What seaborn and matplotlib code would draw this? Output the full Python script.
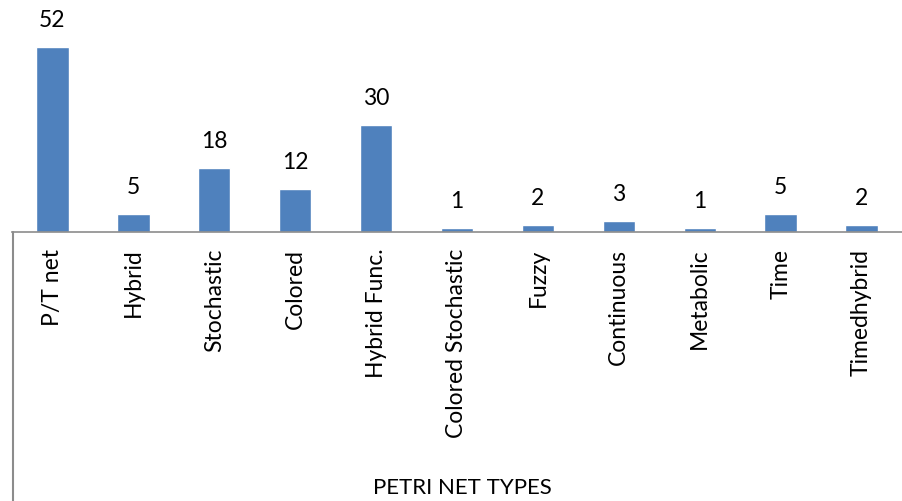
import matplotlib
matplotlib.use("Agg")
import matplotlib.pyplot as plt
import seaborn as sns
import pandas as pd
from matplotlib.lines import Line2D

types = ['P/T net', 'Hybrid', 'Stochastic', 'Colored', 'Hybrid Func.',
         'Colored Stochastic', 'Fuzzy', 'Continuous', 'Metabolic', 'Time',
         'Timedhybrid']
counts = [52, 5, 18, 12, 30, 1, 2, 3, 1, 5, 2]

df = pd.DataFrame({'type': types, 'count': counts})

sns.set_style('white')
plt.rcParams['font.family'] = ['Lato', 'DejaVu Sans']
plt.rcParams['text.color'] = 'black'
plt.rcParams['xtick.color'] = 'black'

fig = plt.figure(figsize=(9.02, 5.01), dpi=100)
# axes: left at x=12px, baseline at y=232px from top
ax = fig.add_axes([12 / 902, (501 - 232) / 501, 890 / 902, 232 / 501])
sns.barplot(data=df, x='type', y='count', color='#4F81BD', width=0.4,
            saturation=1, ax=ax)
ax.set_ylim(0, 232 / 3.56)
ax.set_xlim(-0.5, len(types) - 0.5)

for i, v in enumerate(counts):
    ax.text(i, v + 4.6, str(v), ha='center', va='bottom', fontsize=16.5)

ax.set_yticks([])
ax.set_ylabel('')
ax.set_xlabel('')
ax.set_xticks(range(len(types)))
ax.set_xticklabels(types, rotation=90, fontsize=16.5, va='top')
ax.tick_params(axis='x', length=0, pad=12)
for s in ['top', 'right', 'left']:
    ax.spines[s].set_visible(False)
ax.spines['bottom'].set_color('#8c8c8c')
ax.spines['bottom'].set_linewidth(1.2)

# left border running down to the bottom
fig.add_artist(Line2D([12.5 / 902, 12.5 / 902], [0, (501 - 232) / 501],
                      transform=fig.transFigure, color='#8c8c8c', lw=1.5))

fig.text(462 / 902, 13 / 501, 'PETRI NET TYPES', ha='center', va='center',
         fontsize=16)

fig.savefig('out.png', dpi=100)
